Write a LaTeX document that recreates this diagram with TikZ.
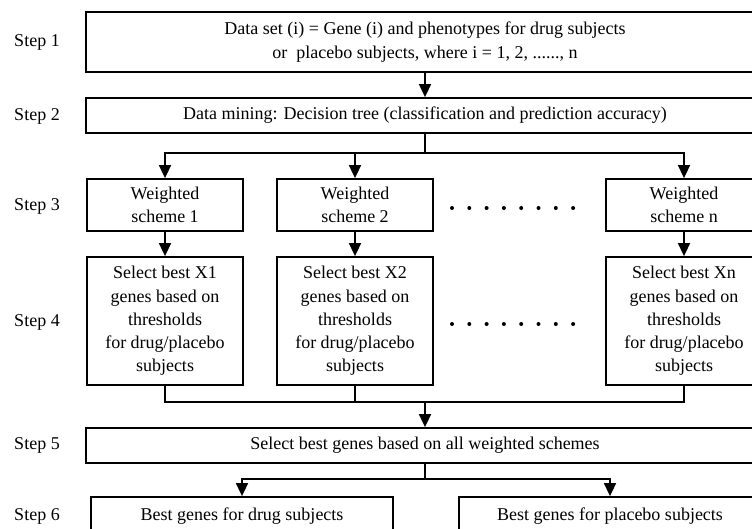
\documentclass[tikz,border=0pt]{standalone}
\usepackage{fontspec}
\setmainfont{Liberation Serif}
\usetikzlibrary{arrows.meta}

\begin{document}
\begin{tikzpicture}[x=1pt,y=-1pt,line width=1.6pt,
  every node/.style={font=\fontsize{18}{23.3}\selectfont, align=center, inner sep=0pt},
  box/.style={draw, line width=1.8pt},
  arr/.style={-{Triangle[length=13pt,width=12pt]}}]

\useasboundingbox (0,0) rectangle (752,528);
\clip (0,0) rectangle (752,528);

% step labels
\node (l1) at (37,42) {Step 1};
\node (l2) at (37,116) {Step 2};
\node (l3) at (37,206) {Step 3};
\node (l4) at (37,322) {Step 4};
\node (l5) at (37,445) {Step 5};
\node (l6) at (37,516) {Step 6};

% boxes
\node[box, minimum width=678pt, minimum height=60pt] (data) at (425,42) {Data set (i) = Gene (i) and phenotypes for drug subjects\\ or\ \ placebo subjects, where i = 1, 2, ......, n};
\node[box, minimum width=678pt, minimum height=35pt] (mine) at (425,115.5) {Data mining: Decision tree (classification and prediction accuracy)};

\node[box, minimum width=156pt, minimum height=52pt] (w1) at (165,205) {Weighted\\ scheme 1};
\node[box, minimum width=156pt, minimum height=52pt] (w2) at (355,205) {Weighted\\ scheme 2};
\node[box, minimum width=156pt, minimum height=52pt] (wn) at (684,205) {Weighted\\ scheme n};

\node[box, minimum width=156pt, minimum height=128pt] (s1) at (165,321) {Select best X1\\ genes based on\\ thresholds\\ for drug/placebo\\ subjects};
\node[box, minimum width=156pt, minimum height=128pt] (s2) at (355,321) {Select best X2\\ genes based on\\ thresholds\\ for drug/placebo\\ subjects};
\node[box, minimum width=156pt, minimum height=128pt] (sn) at (684,321) {Select best Xn\\ genes based on\\ thresholds\\ for drug/placebo\\ subjects};

\node[box, minimum width=678pt, minimum height=35pt] (best) at (425,445.5) {Select best genes based on all weighted schemes};

\node[box, minimum width=302pt, minimum height=38pt] (drug) at (242,516) {Best genes for drug subjects};
\node[box, minimum width=302pt, minimum height=38pt] (placebo) at (610,516) {Best genes for placebo subjects};

% dots
\foreach \i in {0,...,7} {
  \fill (452+\i*17.3,208) circle (2pt);
  \fill (452+\i*17.3,324) circle (2pt);
}

% connectors
\coordinate (fork) at (425,153);
\coordinate (join) at (425,402);
\coordinate (fork2) at (425,479);

\draw[arr] (data) -- (mine);
\draw (mine) -- (fork);
\draw[arr] (fork) -| (w1.north);
\draw[arr] (fork) -| (w2.north);
\draw[arr] (fork) -| (wn.north);
\draw[arr] (w1) -- (s1);
\draw[arr] (w2) -- (s2);
\draw[arr] (wn) -- (sn);
\draw (s1.south) |- (join);
\draw (s2.south) |- (join);
\draw (sn.south) |- (join);
\draw[arr] (join) -- (best);
\draw (best) -- (fork2);
\draw[arr] (fork2) -| (drug.north);
\draw[arr] (fork2) -| (placebo.north);
\end{tikzpicture}
\end{document}
